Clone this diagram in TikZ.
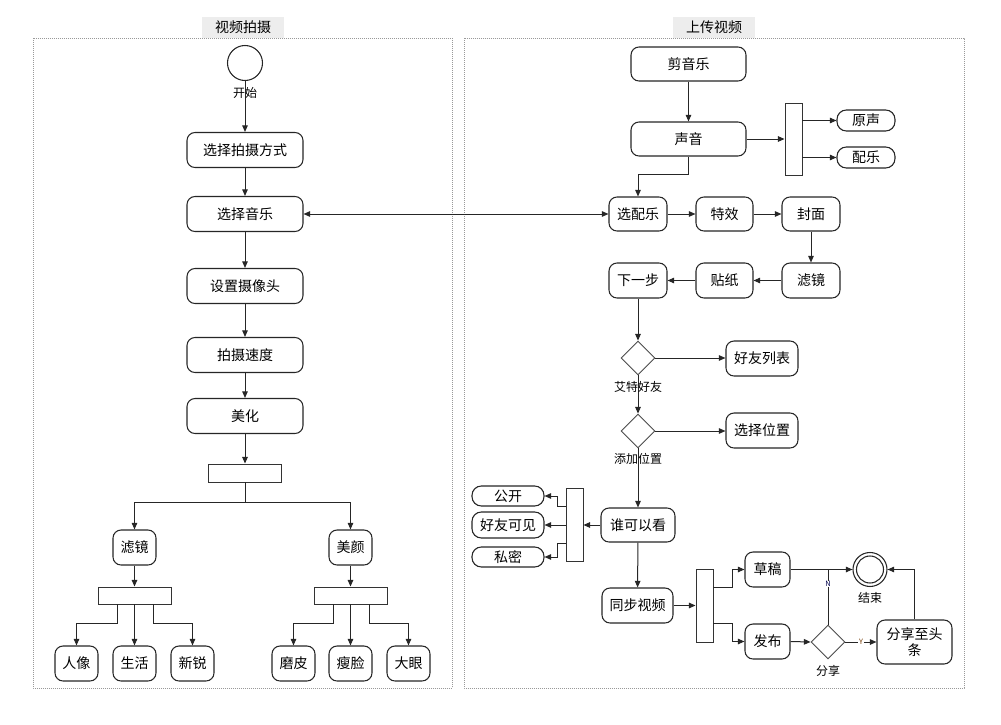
\documentclass[tikz,border=0pt]{standalone}
\usepackage{fontspec}
\setmainfont{Noto Sans CJK SC}
\usetikzlibrary{arrows.meta,shapes.geometric}
\newcommand\pxu{0.75pt}
\tikzset{
  box/.style={draw=black!85, line width=0.8pt, rounded corners=6pt, fill=white, inner sep=0pt, font=\fontsize{10.5}{12.5}\selectfont, align=center},
  sz/.style 2 args={minimum width=#1*\pxu, minimum height=#2*\pxu},
  pill/.style={draw=black!85, line width=0.8pt, rounded corners=7pt, fill=white, inner sep=0pt, font=\fontsize{10.5}{12.5}\selectfont},
  barbox/.style={draw=black!80, line width=0.7pt, fill=white, inner sep=0pt},
  dia/.style={diamond, draw=black!70, line width=0.65pt, fill=white, inner sep=0pt, minimum width=34*\pxu, minimum height=34*\pxu},
  small/.style={font=\fontsize{9}{10.5}\selectfont, inner sep=0pt},
  tiny/.style={font=\fontsize{5.5}{6}\selectfont, inner sep=0.6pt, fill=white},
  ar/.style={-{Triangle[length=5pt,width=4.2pt]}, draw=black!85, line width=0.75pt},
  ln/.style={draw=black!85, line width=0.75pt},
  lane/.style={draw=black!40, line width=0.5pt, dash pattern=on 0.6pt off 0.9pt},
  title/.style={fill=black!7, minimum width=82*\pxu, minimum height=21*\pxu, inner sep=0pt, font=\fontsize{10.5}{12}\selectfont},
}
\begin{document}
\begin{tikzpicture}[x=\pxu, y=-\pxu]
\useasboundingbox (0,0) rectangle (1001,725);
% lanes
\draw[lane] (33,38) rectangle (452,688);
\draw[lane] (464,38) rectangle (964,688);
\node[title] (t1) at (243,27.5) {视频拍摄};
\node[title] (t2) at (714,27.5) {上传视频};

% ---------- left lane ----------
\node[circle, draw=black!85, line width=0.8pt, minimum size=35*\pxu, inner sep=0pt] (start) at (245,63) {};
\node[box, sz={116}{35}] (a1) at (245,150) {选择拍摄方式};
\node[box, sz={116}{35}] (a2) at (245,214) {选择音乐};
\node[box, sz={116}{35}] (a3) at (245,286) {设置摄像头};
\node[box, sz={116}{35}] (a4) at (245,355) {拍摄速度};
\node[box, sz={116}{35}] (a5) at (245,416) {美化};
\node[barbox, sz={73}{18}] (b1) at (245,473) {};
\node[box, sz={43}{35}] (lj) at (134.5,547.5) {滤镜};
\node[box, sz={43}{35}] (my) at (350.5,547.5) {美颜};
\node[barbox, sz={73}{17}] (b2) at (134.5,595.5) {};
\node[barbox, sz={73}{17}] (b3) at (350.5,595.5) {};
\node[box, sz={43}{35}] (rx) at (76.5,663.5) {人像};
\node[box, sz={43}{35}] (sh) at (134.5,663.5) {生活};
\node[box, sz={43}{35}] (xr) at (192.5,663.5) {新锐};
\node[box, sz={43}{35}] (mp) at (293.5,663.5) {磨皮};
\node[box, sz={43}{35}] (sl) at (350.5,663.5) {瘦脸};
\node[box, sz={43}{35}] (dy) at (408.5,663.5) {大眼};

\draw[ar] (start) -- (a1);
\node[small] (ks) at (245,93) {开始};
\draw[ar] (a1) -- (a2);
\draw[ar] (a2) -- (a3);
\draw[ar] (a3) -- (a4);
\draw[ar] (a4) -- (a5);
\draw[ar] (a5) -- (b1);
\coordinate (br1) at (245,502);
\draw[ar] (b1.south) -- (br1) -| (lj.north);
\draw[ar] (br1) -| (my.north);
\draw[ar] (lj) -- (b2);
\draw[ar] (my) -- (b3);
\coordinate (l1) at (117,604);
\coordinate (l3) at (153,604);
\coordinate (r1) at (333,604);
\coordinate (r3) at (369,604);
\draw[ar] (l1) -- (117,623) -| (rx.north);
\draw[ar] (b2.south) -- (sh.north);
\draw[ar] (l3) -- (153,623) -| (xr.north);
\draw[ar] (r1) -- (333,623) -| (mp.north);
\draw[ar] (b3.south) -- (sl.north);
\draw[ar] (r3) -- (369,623) -| (dy.north);

% ---------- right lane ----------
\node[box, sz={115}{34}] (jyl) at (688.5,64) {剪音乐};
\node[box, sz={115}{34}] (sy) at (688.5,139) {声音};
\node[barbox, sz={17}{72}] (vb1) at (793.5,139) {};
\node[pill, sz={58}{21}] (ys) at (866,120.5) {原声};
\node[pill, sz={58}{21}] (pl) at (866,157.5) {配乐};
\node[box, sz={58}{34}] (xpl) at (638,214) {选配乐};
\node[box, sz={57}{34}] (tx) at (724.5,214) {特效};
\node[box, sz={58}{34}] (fm) at (811,214) {封面};
\node[box, sz={58}{35}] (lj2) at (811,280.5) {滤镜};
\node[box, sz={57}{35}] (tz) at (724.5,280.5) {贴纸};
\node[box, sz={58}{35}] (xyb) at (638,280.5) {下一步};
\node[dia] (d1) at (638,358) {};
\node[box, sz={72}{35}] (hy) at (762,358.5) {好友列表};
\node[dia] (d2) at (638,431) {};
\node[box, sz={72}{35}] (wz) at (762,430.5) {选择位置};
\node[box, sz={74}{34}] (sk) at (638,525) {谁可以看};
\node[barbox, sz={17}{73}] (vb2) at (574.5,524.5) {};
\node[pill, sz={72}{20}] (gk) at (508,496) {公开};
\node[pill, sz={72}{26}] (hk) at (508,525) {好友可见};
\node[pill, sz={72}{20}] (sm) at (508,557) {私密};
\node[box, sz={71}{35}] (tb) at (637.5,605.5) {同步视频};
\node[barbox, sz={17}{73}] (vb3) at (704.5,605.5) {};
\node[box, sz={45}{35}] (cg) at (767.5,569.5) {草稿};
\node[box, sz={45}{35}] (fb) at (767.5,641.5) {发布};
\node[circle, draw=black!85, line width=0.8pt, minimum size=34*\pxu, inner sep=0pt] (end) at (870,569.5) {};
\draw[black!85, line width=0.8pt] (end.center) circle[radius=13.5*\pxu];
\node[dia] (d3) at (828,642) {};
\node[box, sz={75}{44}] (fx) at (914.5,642) {分享至头\\条};

\draw[ar] (jyl) -- (sy);
\draw[ar] (sy.east) -- (vb1.west |- sy.east);
\draw[ar] (vb1.east |- ys.west) -- (ys.west);
\draw[ar] (vb1.east |- pl.west) -- (pl.west);
\draw[ar] (sy.south) -- ++(0,18) -| (xpl.north);
\draw[{Triangle[length=5pt,width=4.2pt]}-{Triangle[length=5pt,width=4.2pt]}, draw=black!85, line width=0.75pt] (a2.east) -- (xpl.west);
\draw[ar] (xpl) -- (tx);
\draw[ar] (tx) -- (fm);
\draw[ar] (fm) -- (lj2);
\draw[ar] (lj2) -- (tz);
\draw[ar] (tz) -- (xyb);
\draw[ar] (xyb) -- (d1.north);
\draw[ar] (d1.east) -- (hy.west |- d1.east);
\draw[ar] (d1.south) -- (d2.north);
\node[small] (atlab) at (638,387) {艾特好友};
\draw[ar] (d2.east) -- (wz.west |- d2.east);
\draw[ar] (d2.south) -- (sk.north);
\node[small] (tjlab) at (638,459) {添加位置};
\draw[ar] (sk.west) -- (vb2.east |- sk.west);
\coordinate (g1) at (566,506);
\coordinate (g3) at (566,543);
\draw[ar] (g1) -- (557,506) |- (gk.east);
\draw[ar] (vb2.west |- hk.east) -- (hk.east);
\draw[ar] (g3) -- (557,543) |- (sm.east);
\draw[ar] (sk) -- (tb);
\draw[ar] (tb.east) -- (vb3.west |- tb.east);
\coordinate (h1) at (713,587);
\coordinate (h2) at (713,623);
\draw[ar] (h1) -- (732,587) |- (cg.west);
\draw[ar] (h2) -- (732,623) |- (fb.west);
\draw[ar] (cg.east) -- (end.west);
\draw[ar] (fb.east) -- (d3.west);
\draw[ln] (d3.north) -- (d3.north |- cg.east);
\node[tiny, text=black!70!blue] (nl) at (828,584) {N};
\draw[ar] (d3.east) -- (fx.west);
\node[tiny, text=black!55!orange] (yl) at (861,642) {Y};
\draw[ar] (fx.north) |- (end.east);
\node[small] (jslab) at (870,598) {结束};
\node[small] (fxlab) at (828,671) {分享};
\end{tikzpicture}
\end{document}
